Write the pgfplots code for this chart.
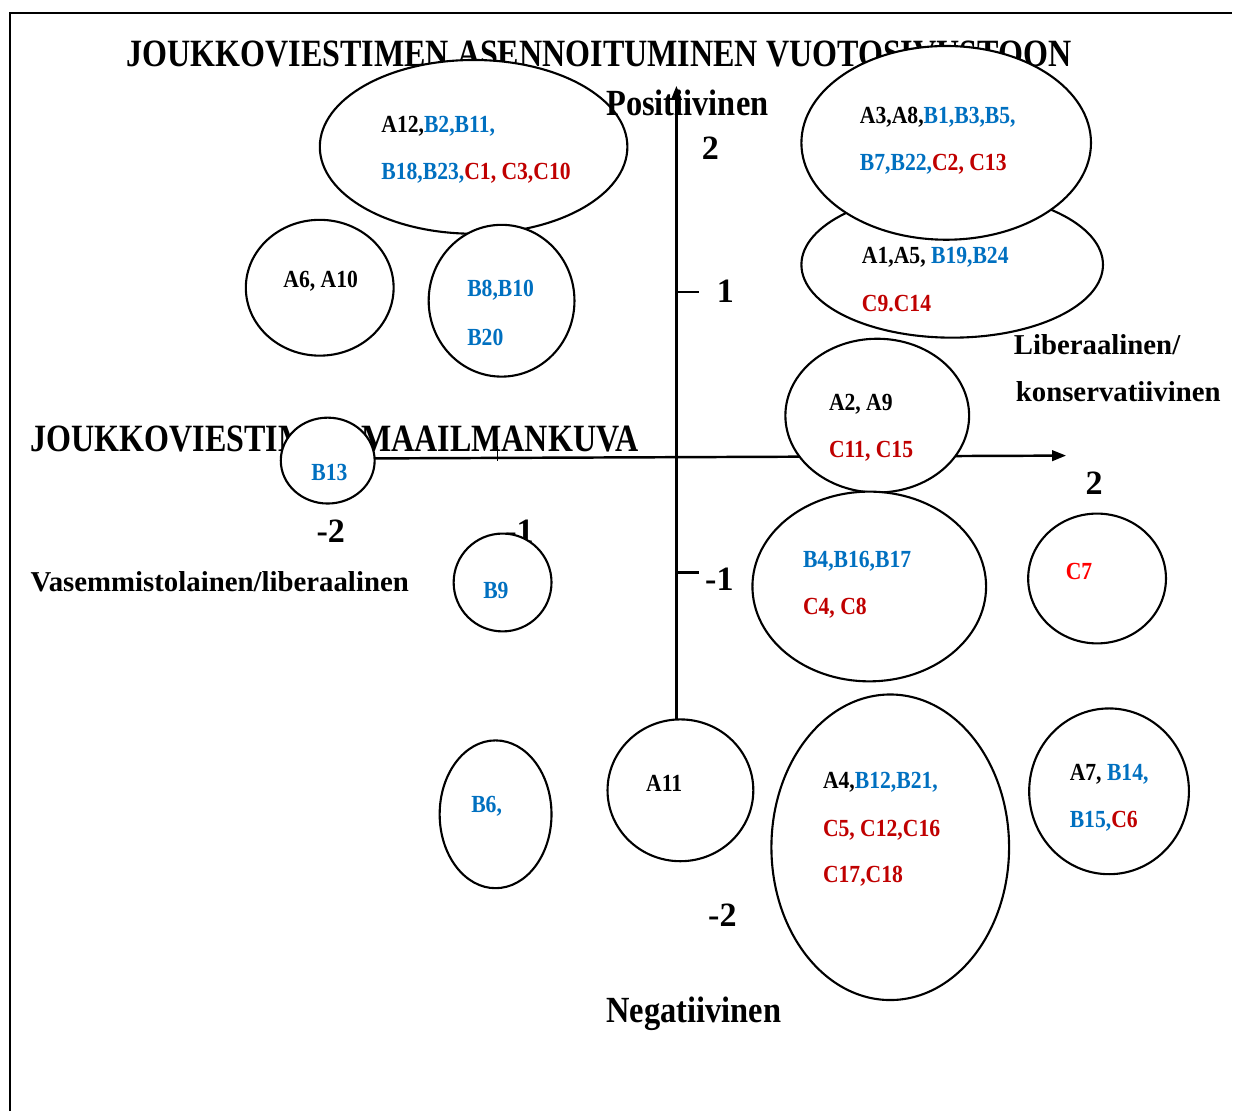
\documentclass[border=0pt]{standalone}
\usepackage{pgfplots}
\pgfplotsset{compat=1.18}
\usepackage{pgfplotstable}
\usepackage{fontspec}
\setmainfont{Liberation Serif}
\newfontfamily\cond[FakeStretch=0.83]{Liberation Serif}
\newfontfamily\condb[FakeStretch=0.88]{Liberation Serif}
\newfontfamily\lab[FakeStretch=0.88]{Liberation Serif}
\usetikzlibrary{arrows.meta}
\definecolor{bl}{HTML}{0070C0}
\definecolor{rd}{HTML}{C00000}
\definecolor{rr}{HTML}{FF0000}
\newcommand{\B}[1]{\textcolor{bl}{#1}}
\newcommand{\C}[1]{\textcolor{rd}{#1}}
\pgfdeclareplotmark{void}{}
\tikzset{
    lbl/.style={anchor=west, inner sep=0pt, font=\lab\bfseries\fontsize{7}{8}\selectfont},
    big/.style={inner sep=0pt, font=\cond\bfseries\fontsize{11}{13}\selectfont},
    pn/.style={anchor=west, inner sep=0pt, font=\condb\bfseries\fontsize{10.5}{12}\selectfont},
    num/.style={inner sep=0pt, font=\bfseries\fontsize{9.7}{11}\selectfont},
    side/.style={anchor=west, inner sep=0pt, font=\bfseries\fontsize{8.2}{10}\selectfont},
}

% ellipses: centre x, centre y (pixels, y down), radii
\pgfplotstableread{
x    y    rx   ry
474  147  154  87
953  265  151  73
947  143  145  97
320  288  74   68
502  301  73   76
878  416  92   77
328  461  47   43
503  583  49   49
870  587  117  95
1098 579  69   65
496  815  56   74
681  791  73   71
891  848  119  153
1110 792  80   83
}\ellipses

\begin{document}
\begin{tikzpicture}
\begin{axis}[
    set layers,
    width=12.33cm, height=11.12cm, scale only axis,
    xmin=0, xmax=1233, ymin=0, ymax=1112,
    y dir=reverse,
    axis line style={draw=none},
    xtick=\empty, ytick=\empty,
    clip=false,
]
% frame
\addplot[black, line width=0.6pt] coordinates {(10,1112) (10,13) (1233,13)};

% texts that the ellipses cover
\node[big, anchor=west] at (axis cs:126,54) {JOUKKOVIESTIMEN ASENNOITUMINEN VUOTOSIVUSTOON};
\node[big, anchor=west] at (axis cs:30,439) {JOUKKOVIESTIMEN MAAILMANKUVA};
\node[num] at (axis cs:520,532) {-1};

% axes
\addplot[black, line width=0.7pt, -{Triangle[length=4pt,width=3pt]}] coordinates {(677,720) (677,86)};
\addplot[black, line width=0.7pt, -{Triangle[length=4pt,width=3pt]}] coordinates {(330,459) (1067,456)};
\addplot[black, line width=0.7pt] coordinates {(677,292) (700,292)};
\addplot[black, line width=0.7pt] coordinates {(677,573) (700,573)};
\addplot[black, line width=0.5pt] coordinates {(498,446) (498,461)};

% ellipses
\addplot[scatter, only marks, mark=void,
    visualization depends on={\thisrow{rx}\as\rx},
    visualization depends on={\thisrow{ry}\as\ry},
    scatter/@pre marker code/.code={%
        \pgfsetfillcolor{white}\pgfsetstrokecolor{black}\pgfsetlinewidth{0.6pt}%
        \pgfpathellipse{\pgfpointorigin}{\pgfpoint{\rx*0.01cm}{0pt}}{\pgfpoint{0pt}{\ry*0.01cm}}%
        \pgfusepath{fill,stroke}},
    scatter/@post marker code/.code={},
] table[x=x, y=y] {\ellipses};

\begin{pgfonlayer}{axis foreground}
% axis labels
\node[pn] at (axis cs:606,103) {Positiivinen};
\node[pn] at (axis cs:606,1015) {Negatiivinen};
\node[num] at (axis cs:711,148) {2};
\node[num] at (axis cs:726,292) {1};
\node[num] at (axis cs:720,580) {-1};
\node[num] at (axis cs:723,916) {-2};
\node[num] at (axis cs:331,532) {-2};
\node[num] at (axis cs:1095,484) {2};
\node[side] at (axis cs:30,582) {Vasemmistolainen/liberaalinen};
\node[side] at (axis cs:1014,345) {Liberaalinen/};
\node[side] at (axis cs:1016,392) {konservatiivinen};

% group labels
\node[lbl] at (axis cs:381,126) {A12,\B{B2,B11,}};
\node[lbl] at (axis cs:381,173) {\B{B18,B23,}\C{C1, C3,C10}};
\node[lbl] at (axis cs:860,117) {A3,A8,\B{B1,B3,B5,}};
\node[lbl] at (axis cs:860,164) {\B{B7,B22,}\C{C2, C13}};
\node[lbl] at (axis cs:862,257) {A1,A5, \B{B19,B24}};
\node[lbl] at (axis cs:862,304) {\C{C9.C14}};
\node[lbl] at (axis cs:283,281) {A6, A10};
\node[lbl] at (axis cs:467,290) {\B{B8,B10}};
\node[lbl] at (axis cs:467,338) {\B{B20}};
\node[lbl] at (axis cs:829,405) {A2, A9};
\node[lbl] at (axis cs:829,452) {\C{C11, C15}};
\node[lbl] at (axis cs:311,473) {\B{B13}};
\node[lbl] at (axis cs:483,591) {\B{B9}};
\node[lbl] at (axis cs:803,562) {\B{B4,B16,B17}};
\node[lbl] at (axis cs:803,609) {\C{C4, C8}};
\node[lbl] at (axis cs:1066,572) {\textcolor{rr}{C7}};
\node[lbl] at (axis cs:471,807) {\B{B6,}};
\node[lbl] at (axis cs:646,784) {A11};
\node[lbl] at (axis cs:823,783) {A4,\B{B12,B21,}};
\node[lbl] at (axis cs:823,831) {\C{C5, C12,C16}};
\node[lbl] at (axis cs:823,877) {\C{C17,C18}};
\node[lbl] at (axis cs:1070,775) {A7, \B{B14,}};
\node[lbl] at (axis cs:1070,822) {\B{B15,}\C{C6}};
\end{pgfonlayer}
\end{axis}
\end{tikzpicture}
\end{document}
